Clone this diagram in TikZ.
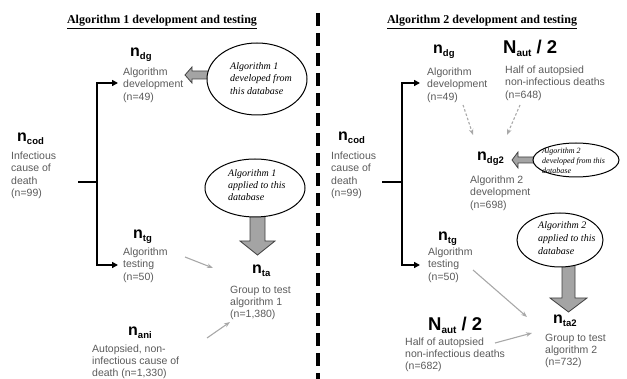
\documentclass[tikz,border=0pt]{standalone}
\usepackage{fontspec}
\setmainfont{Liberation Sans}
\newfontfamily\serifit{Liberation Serif}
\usetikzlibrary{arrows.meta,shapes.geometric}
\definecolor{txtgrey}{HTML}{5A5A5A}
\definecolor{lgrey}{HTML}{A8A8A8}
\definecolor{fatgrey}{HTML}{A4A4A4}
\newcommand{\nlab}[2]{{\fontsize{16}{16}\selectfont\bfseries #1}\raisebox{-2.5pt}{\fontsize{9.5}{9.5}\selectfont\bfseries #2}}
\newcommand{\Nhalf}{{\fontsize{18.5}{18}\selectfont\bfseries N}\raisebox{-3pt}{\fontsize{10}{10}\selectfont\bfseries aut}{\fontsize{18.5}{18}\selectfont\bfseries\ /\ 2}}
\begin{document}
\begin{tikzpicture}[x=1pt,y=-1pt,
  tx/.style={font=\fontsize{10.5}{12.5}\selectfont, text=txtgrey, align=left, anchor=base west, inner sep=0pt},
  hd/.style={anchor=base west, inner sep=0pt, text=black},
  ttl/.style={font=\serifit\bfseries\fontsize{12}{14}\selectfont, anchor=base, inner sep=0pt},
  ell/.style={draw=black, line width=1pt, ellipse, fill=white, inner sep=0pt},
  etx/.style={font=\serifit\itshape\fontsize{10}{12.5}\selectfont, align=left, anchor=west, inner sep=0pt},
  brk/.style={draw=black, line width=1.5pt},
  brka/.style={brk, -{Triangle[length=6pt,width=6pt]}},
  garr/.style={draw=lgrey, line width=1.1pt, -{Stealth[length=6pt,width=4.5pt]}},
  gdash/.style={garr, dash pattern=on 2.5pt off 2pt},
  fat/.style={draw=black!75, line width=0.8pt, fill=fatgrey, line join=miter}
]
\useasboundingbox (0,0) rectangle (627,379);

% divider
\draw[line width=4pt, dash pattern=on 13pt off 7pt] (318,13) -- (318,379);

% titles
\node[ttl] (t1) at (162,24) {\underline{Algorithm 1 development and testing}};
\node[ttl] (t2) at (482,24) {\underline{Algorithm 2 development and testing}};

% ================= LEFT =================
% (text blocks: base anchor = baseline of last line)
\node[hd] (ncod1) at (17,142) {\nlab{n}{cod}};
\node[tx] (ncod1t) at (11,197) {Infectious\\cause of\\death\\(n=99)};
\node[hd] (ndg1) at (130,57) {\nlab{n}{dg}};
\node[tx] (ndg1t) at (123,100.5) {Algorithm\\development\\(n=49)};
\node[hd] (ntg1) at (133,239) {\nlab{n}{tg}};
\node[tx] (ntg1t) at (123,280.5) {Algorithm\\testing\\(n=50)};
\node[hd] (nta1) at (252,274) {\nlab{n}{ta}};
\node[tx, font=\fontsize{10.5}{12}\selectfont] (nta1t) at (230,317.5) {Group to test\\algorithm 1\\(n=1,380)};
\node[hd] (nani) at (128,336) {\nlab{n}{ani}};
\node[tx, font=\fontsize{10.5}{12}\selectfont] (nanit) at (92,376.5) {Autopsied, non-\\infectious cause of\\death (n=1,330)};

% bracket
\coordinate (j1) at (97,182);
\coordinate (j1a) at (97,83);
\coordinate (j1b) at (97,265);
\coordinate (a1a) at (118,83);
\coordinate (a1b) at (118,265);
\draw[brk] (78,182) -- (j1);
\draw[brk] (j1a) -- (j1b);
\draw[brka] ([xshift=-0.75pt]j1a) -- (a1a);
\draw[brka] ([xshift=-0.75pt]j1b) -- (a1b);

% fat arrow 1 (left)
\draw[fat] (210,71) -- (192,71) -- (192,67) -- (185,75) -- (192,83) -- (192,79) -- (210,79);
\node[ell, minimum width=100pt, minimum height=72pt] (e1) at (257,79) {};
\node[etx] (e1t) at (230,78.5) {Algorithm 1\\developed from\\this database};

% fat arrow 2 (down)
\draw[fat] (250,214) -- (250,241) -- (240,241) -- (257.5,255) -- (275,241) -- (265,241) -- (265,214);
\node[ell, minimum width=100pt, minimum height=58pt] (e2) at (255,188) {};
\node[etx, font=\serifit\itshape\fontsize{10}{12}\selectfont] (e2t) at (228,185) {Algorithm 1\\applied to this\\database};

% grey arrows
\coordinate (g1s) at (185,257);
\coordinate (g1e) at (213,268);
\coordinate (g2s) at (207,338);
\coordinate (g2e) at (230,322);
\draw[garr] (g1s) -- (g1e);
\draw[garr] (g2s) -- (g2e);

% ================= RIGHT =================
\node[hd] (ncod2) at (338,141) {\nlab{n}{cod}};
\node[tx] (ncod2t) at (331,197) {Infectious\\cause of\\death\\(n=99)};
\node[hd] (ndg2h) at (433,54) {\nlab{n}{dg}};
\node[tx] (ndg2ht) at (427,100.5) {Algorithm\\development\\(n=49)};
\node[hd] (naut1) at (503,54) {\Nhalf};
\node[tx] (naut1t) at (505,98.5) {Half of autopsied\\non-infectious deaths\\(n=648)};
\node[hd] (ndgtwo) at (477,161) {\nlab{n}{dg2}};
\node[tx] (ndgtwot) at (470,208.5) {Algorithm 2\\development\\(n=698)};
\node[hd] (ntg2) at (438,241) {\nlab{n}{tg}};
\node[tx] (ntg2t) at (428,280.5) {Algorithm\\testing\\(n=50)};
\node[hd] (nta2) at (553,324) {\nlab{n}{ta2}};
\node[tx, font=\fontsize{10.5}{12}\selectfont] (nta2t) at (545,365.5) {Group to test\\algorithm 2\\(n=732)};
\node[hd] (naut2) at (428,331) {\Nhalf};
\node[tx, font=\fontsize{10.5}{12}\selectfont] (naut2t) at (405,369.5) {Half of autopsied\\non-infectious deaths\\(n=682)};

% bracket
\coordinate (j2) at (402,182);
\coordinate (j2a) at (402,83);
\coordinate (j2b) at (402,265);
\coordinate (a2a) at (420,83);
\coordinate (a2b) at (420,265);
\draw[brk] (382,182) -- (j2);
\draw[brk] (j2a) -- (j2b);
\draw[brka] ([xshift=-0.75pt]j2a) -- (a2a);
\draw[brka] ([xshift=-0.75pt]j2b) -- (a2b);

% dashed arrows into ndg2
\coordinate (d1s) at (463,105);
\coordinate (d1e) at (473,135);
\coordinate (d2s) at (520,105);
\coordinate (d2e) at (507,135);
\draw[gdash] (d1s) -- (d1e);
\draw[gdash] (d2s) -- (d2e);

% fat arrow 3 (left)
\draw[fat] (536,157) -- (518,157) -- (518,152) -- (512,160) -- (518,168) -- (518,163) -- (536,163);
\node[ell, minimum width=86pt, minimum height=34pt] (e3) at (576,160) {};
\node[etx, font=\serifit\itshape\fontsize{8}{10}\selectfont] (e3t) at (542,161) {Algorithm 2\\developed from this\\database};

% fat arrow 4 (down)
\draw[fat] (562,263) -- (562,298) -- (550,298) -- (568.5,312) -- (587,298) -- (575,298) -- (575,263);
\node[ell, minimum width=86pt, minimum height=54pt] (e4) at (560,240) {};
\node[etx, font=\serifit\itshape\fontsize{10}{13}\selectfont] (e4t) at (538,238) {Algorithm 2\\applied to this\\database};

% grey arrows
\coordinate (g3s) at (473,270);
\coordinate (g3e) at (527,317);
\coordinate (g4s) at (495,343);
\coordinate (g4e) at (532,333);
\draw[garr] (g3s) -- (g3e);
\draw[garr] (g4s) -- (g4e);
\end{tikzpicture}
\end{document}
